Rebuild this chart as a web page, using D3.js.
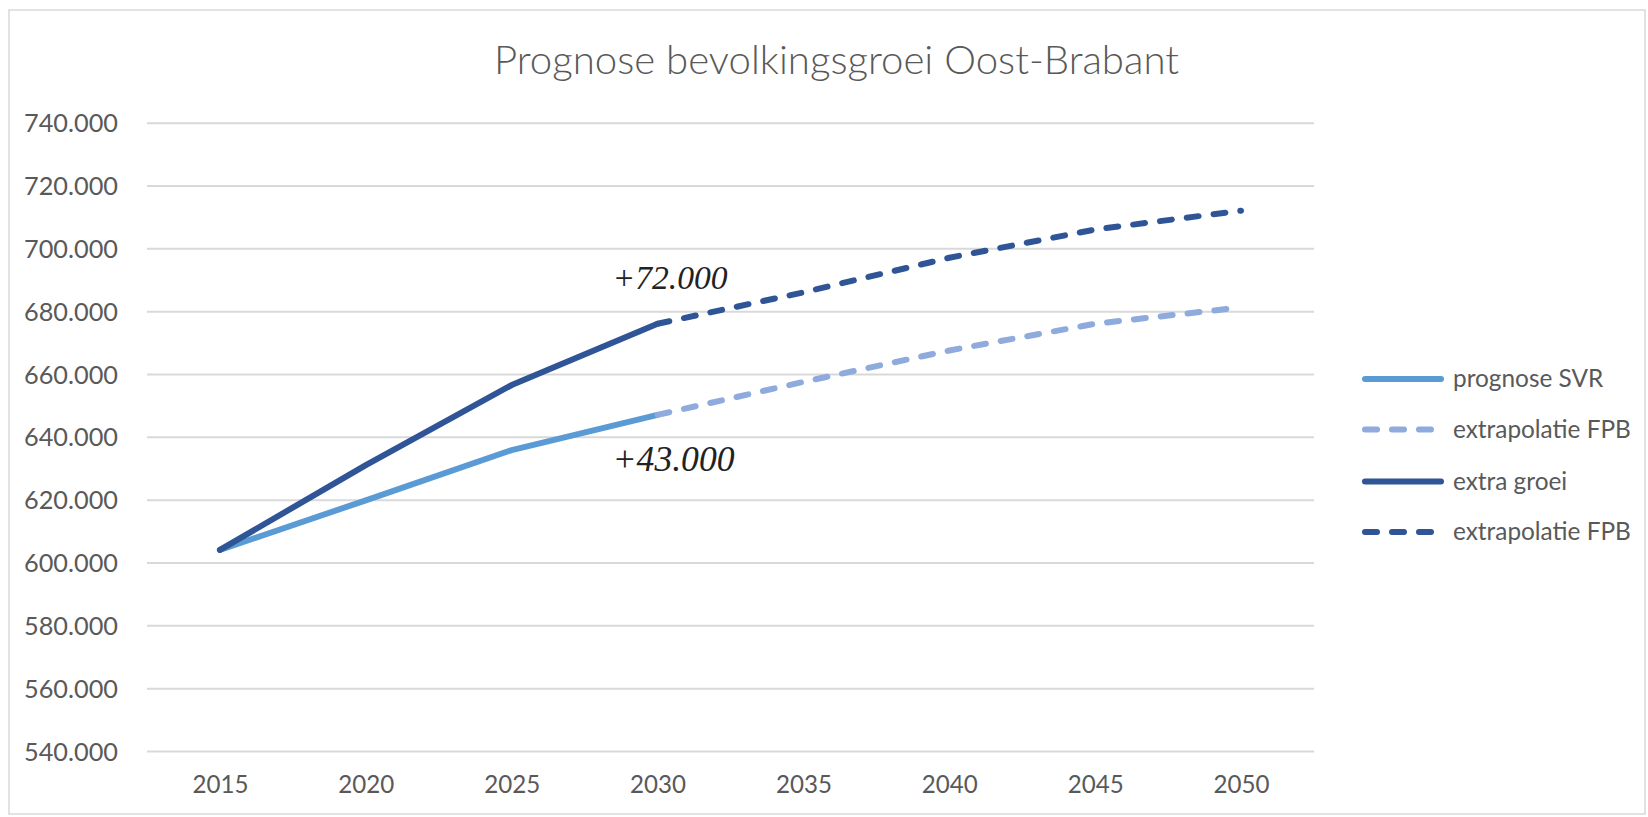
<!DOCTYPE html>
<html>
<head>
<meta charset="utf-8">
<script src="https://cdn.jsdelivr.net/npm/d3@7"></script>
<style>
  html, body { margin: 0; padding: 0; background: #ffffff; }
  svg { display: block; }
</style>
</head>
<body>
<svg id="chart" width="1648" height="817"></svg>
<script>
const title = "Prognose bevolkingsgroei Oost-Brabant";
const years = [2015, 2020, 2025, 2030, 2035, 2040, 2045, 2050];
const yTicks = [540000, 560000, 580000, 600000, 620000, 640000, 660000, 680000, 700000, 720000, 740000];

const svrYears = [2015, 2020, 2025, 2030];
const svrValues = [604000, 619800, 635800, 647000];
const svrExtraYears = [2030, 2035, 2040, 2045, 2050];
const svrExtraValues = [647000, 657500, 667500, 676000, 681200];
const groeiYears = [2015, 2020, 2025, 2030];
const groeiValues = [604000, 631000, 656500, 676000];
const groeiExtraYears = [2030, 2035, 2040, 2045, 2050];
const groeiExtraValues = [676000, 686000, 697000, 706000, 712000];

const seriesNames = ["prognose SVR", "extrapolatie FPB", "extra groei", "extrapolatie FPB"];
const annotations = [
  { year: 2030, text: "+72.000" },
  { year: 2030, text: "+43.000" }
];

const colors = ["#5b9bd5", "#8faadc", "#2f5597", "#2f5597"];
const dashed = [false, true, false, true];

const svg = d3.select("#chart");
const grey = "#595959";
const sansFont = "Lato, 'Open Sans', 'DejaVu Sans', sans-serif";

// border
svg.append("rect").attr("x", 9).attr("y", 10).attr("width", 1636).attr("height", 804)
  .attr("fill", "#fff").attr("stroke", "#d9d9d9").attr("stroke-width", 1.5);

const x = d3.scalePoint().domain(years).range([147, 1314]).padding(0.5);
const y = d3.scaleLinear().domain([540000, 740000]).range([751, 122.7]);

function fitSize(node, fs, target) {
  const w = node.getComputedTextLength();
  return w > 0 ? fs * target / w : fs;
}
function fit(sel, target) {
  const fs = parseFloat(sel.attr("font-size"));
  sel.attr("font-size", fitSize(sel.node(), fs, target).toFixed(2));
}

// title
const t = svg.append("text").attr("x", 836.5).attr("y", 74).attr("text-anchor", "middle")
  .attr("font-family", sansFont).attr("font-weight", 300).attr("font-size", 36)
  .attr("fill", grey).text(title);
fit(t, 685);

// gridlines + y labels
const fmt = v => d3.format(",")(v).replace(/,/g, ".");
const yAxis = d3.axisLeft(y).tickValues(yTicks).tickSize(-(1314 - 147)).tickFormat(fmt).tickPadding(29);
const gy = svg.append("g").attr("transform", "translate(147,0)").call(yAxis);
gy.select(".domain").remove();
gy.selectAll(".tick line").attr("stroke", "#d9d9d9").attr("stroke-width", 2);
const yl = gy.selectAll(".tick text").attr("font-family", sansFont).attr("font-size", 24)
  .attr("fill", grey).attr("dy", "0.36em");
const yfs = fitSize(yl.nodes()[yl.size() - 1], 24, 94);
yl.attr("font-size", yfs.toFixed(2));

const xAxis = d3.axisBottom(x).tickSize(0).tickPadding(0);
const gx = svg.append("g").attr("transform", "translate(0,793)").call(xAxis);
gx.select(".domain").remove();
const xl = gx.selectAll(".tick text").attr("font-family", sansFont).attr("font-size", 24)
  .attr("fill", grey).attr("dy", 0);
const xfs = fitSize(xl.nodes()[0], 24, 56);
xl.attr("font-size", xfs.toFixed(2));

// lines
const line = d3.line().x(d => x(d[0])).y(d => y(d[1]));
const series = [
  d3.zip(svrYears, svrValues),
  d3.zip(svrExtraYears, svrExtraValues),
  d3.zip(groeiYears, groeiValues),
  d3.zip(groeiExtraYears, groeiExtraValues)
];
series.forEach((s, i) => {
  svg.append("path").attr("d", line(s)).attr("fill", "none")
    .attr("stroke", colors[i]).attr("stroke-width", 6)
    .attr("stroke-linecap", "round").attr("stroke-linejoin", "round")
    .attr("stroke-dasharray", dashed[i] ? "12,15" : null);
});

// annotations
const a1 = svg.append("text").attr("x", x(annotations[0].year) - 45)
  .attr("y", y(groeiValues[3]) - 35)
  .attr("font-family", "'Liberation Serif', 'DejaVu Serif', serif").attr("font-style", "italic")
  .attr("font-size", 30).attr("fill", "#222").text(annotations[0].text);
fit(a1, 115);
const a2 = svg.append("text").attr("x", x(annotations[1].year) - 45)
  .attr("y", y(svrValues[3]) + 56)
  .attr("font-family", "'Liberation Serif', 'DejaVu Serif', serif").attr("font-style", "italic")
  .attr("font-size", 30).attr("fill", "#222").text(annotations[1].text);
fit(a2, 122);

// legend
const legendY = [379, 429.5, 481.5, 532];
let legendFs = null;
seriesNames.forEach((name, i) => {
  const g = svg.append("g").attr("transform", `translate(0,${legendY[i]})`);
  g.append("line").attr("x1", 1365).attr("x2", 1441).attr("y1", 0).attr("y2", 0)
    .attr("stroke", colors[i]).attr("stroke-width", 6).attr("stroke-linecap", "round")
    .attr("stroke-dasharray", dashed[i] ? "12,15" : null);
  const tx = g.append("text").attr("x", 1453).attr("y", 0).attr("dy", "0.33em")
    .attr("font-family", sansFont).attr("font-size", 21).attr("fill", grey).text(name);
  if (i === 1) legendFs = fitSize(tx.node(), 21, 178);
});
svg.selectAll("g text").filter(function() { return +this.getAttribute("x") === 1453; })
  .attr("font-size", legendFs.toFixed(2));
</script>
</body>
</html>
